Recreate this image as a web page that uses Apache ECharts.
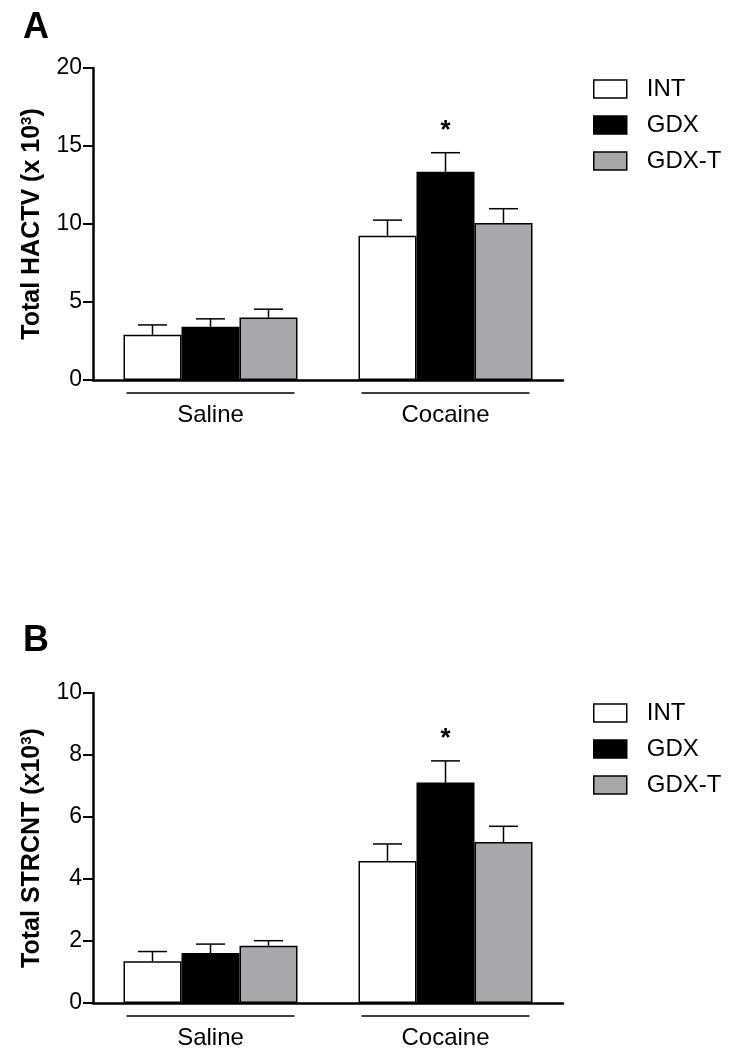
<!DOCTYPE html>
<html>
<head>
<meta charset="utf-8">
<script src="https://cdn.jsdelivr.net/npm/echarts@6/dist/echarts.min.js"></script>
<style>
html,body{margin:0;padding:0;background:#fff;}
#chart{width:743px;height:1050px;}
</style>
</head>
<body>
<div id="chart"></div>
<script>
// ---------- DATA ----------
const categories = ['Saline', 'Cocaine'];
const groups = ['INT', 'GDX', 'GDX-T'];

// Panel A: Total HACTV (x 10^3)
const hactvINT = [2.9, 9.25];
const hactvGDX = [3.42, 13.35];
const hactvGDXT = [4.0, 10.06];
const hactvErrINT = [0.63, 1.0];
const hactvErrGDX = [0.5, 1.22];
const hactvErrGDXT = [0.54, 0.92];
const hactvSig = ['', '*']; // GDX significance
const hactvTicks = [0, 5, 10, 15, 20];

// Panel B: Total STRCNT (x10^3)
const strcntINT = [1.35, 4.58];
const strcntGDX = [1.61, 7.11];
const strcntGDXT = [1.85, 5.19];
const strcntErrINT = [0.31, 0.55];
const strcntErrGDX = [0.29, 0.70];
const strcntErrGDXT = [0.16, 0.51];
const strcntSig = ['', '*'];
const strcntTicks = [0, 2, 4, 6, 8, 10];

// ---------- STYLE ----------
const FONT = 'Liberation Sans, Arial, sans-serif';
const BAR_W = 58;
const CAP_HALF = 14.5;
const colors = ['#ffffff', '#000000', '#a7a8ab'];

const chart = echarts.init(document.getElementById('chart'));

function panel(idx, means, errs, sig, ticks) {
  const series = [];
  groups.forEach((g, k) => {
    series.push({
      type: 'bar', name: g, xAxisIndex: idx, yAxisIndex: idx,
      data: means[k], barWidth: BAR_W, barGap: '0%',
      itemStyle: { color: colors[k], borderColor: '#000', borderWidth: 1.5 },
      z: 2
    });
  });
  groups.forEach((g, k) => {
    series.push({
      type: 'custom', name: g + '-err', xAxisIndex: idx, yAxisIndex: idx,
      data: means[k].map((m, i) => [i, m, m + errs[k][i], k === 1 ? sig[i] : '']),
      clip: false, z: 3, silent: true,
      renderItem: function (params, api) {
        const b = api.coord([api.value(0), api.value(1)]);
        const t = api.coord([api.value(0), api.value(2)]);
        const x = b[0] + (k - 1) * BAR_W;
        const children = [
          { type: 'line', shape: { x1: x, y1: b[1], x2: x, y2: t[1] }, style: { stroke: '#000', lineWidth: 1.5 } },
          { type: 'line', shape: { x1: x - CAP_HALF, y1: t[1], x2: x + CAP_HALF, y2: t[1] }, style: { stroke: '#000', lineWidth: 1.5 } }
        ];
        const s = api.value(3);
        if (s) {
          children.push({ type: 'text', style: { text: s, x: x, y: t[1] - 22, align: 'center', verticalAlign: 'middle', font: 'bold 26px ' + FONT, fill: '#000' } });
        }
        return { type: 'group', children: children };
      }
    });
  });
  // category underlines
  series.push({
    type: 'custom', name: 'underline' + idx, xAxisIndex: idx, yAxisIndex: idx,
    data: categories.map((c, i) => [i, 0]), clip: false, silent: true,
    renderItem: function (params, api) {
      const p = api.coord([api.value(0), api.value(1)]);
      return { type: 'line', shape: { x1: p[0] - 84, y1: p[1] + 13, x2: p[0] + 84, y2: p[1] + 13 }, style: { stroke: '#000', lineWidth: 1.5 } };
    }
  });
  return series;
}

const seriesA = panel(0, [hactvINT, hactvGDX, hactvGDXT], [hactvErrINT, hactvErrGDX, hactvErrGDXT], hactvSig, hactvTicks);
const seriesB = panel(1, [strcntINT, strcntGDX, strcntGDXT], [strcntErrINT, strcntErrGDX, strcntErrGDXT], strcntSig, strcntTicks);

function xAxis(gi) {
  return {
    type: 'category', gridIndex: gi, data: categories,
    axisLine: { lineStyle: { color: '#000', width: 2.5 } },
    axisTick: { show: false },
    axisLabel: { color: '#000', fontSize: 24, fontFamily: FONT, margin: 23 }
  };
}
function yAxis(gi, ticks, name) {
  return {
    type: 'value', gridIndex: gi, min: ticks[0], max: ticks[ticks.length - 1], interval: ticks[1] - ticks[0],
    splitLine: { show: false },
    axisLine: { show: true, lineStyle: { color: '#000', width: 2.5 } },
    axisTick: { show: true, length: 10, lineStyle: { color: '#000', width: 2 } },
    axisLabel: { color: '#000', fontSize: 23, fontFamily: FONT, margin: 11 },
    name: name, nameLocation: 'middle', nameGap: 47, nameRotate: 90,
    nameTextStyle: {
      color: '#000', fontSize: 25, fontWeight: 'bold', fontFamily: FONT,
      rich: { sup: { fontSize: 15, fontWeight: 'bold', fontFamily: FONT, verticalAlign: 'top', padding: [0, 0, 12, 0] } }
    }
  };
}

function legend(top) {
  return {
    left: 593, top: top, orient: 'vertical', icon: 'rect', padding: 0,
    itemWidth: 33, itemHeight: 18, itemGap: 12,
    data: groups,
    itemStyle: { borderColor: '#000', borderWidth: 1.5 },
    textStyle: { color: '#000', fontSize: 24, fontFamily: FONT, padding: [0, 0, 0, 15] },
    selectedMode: false
  };
}

chart.setOption({
  backgroundColor: '#fff',
  animation: false,
  title: [
    { text: 'A', left: 18, top: 5, textStyle: { fontSize: 36, fontWeight: 'bold', fontFamily: FONT, color: '#000' } },
    { text: 'B', left: 18, top: 618, textStyle: { fontSize: 36, fontWeight: 'bold', fontFamily: FONT, color: '#000' } }
  ],
  legend: [legend(77), legend(701)],
  grid: [
    { left: 93, top: 68, width: 470, height: 312, containLabel: false },
    { left: 93, top: 693, width: 470, height: 311, containLabel: false }
  ],
  xAxis: [xAxis(0), xAxis(1)],
  yAxis: [
    yAxis(0, hactvTicks, 'Total HACTV (x 10{sup|3})'),
    yAxis(1, strcntTicks, 'Total STRCNT (x10{sup|3})')
  ],
  series: seriesA.concat(seriesB)
});
</script>
</body>
</html>
